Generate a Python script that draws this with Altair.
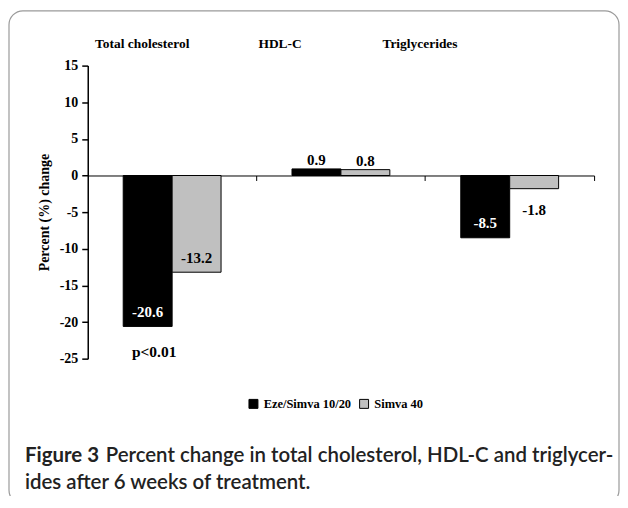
import altair as alt
import pandas as pd

categories = ["Total cholesterol", "HDL-C", "Triglycerides"]
groups = ["Eze/Simva 10/20", "Simva 40"]
eze_values = [-20.6, 0.9, -8.5]
simva_values = [-13.2, 0.8, -1.8]
y_ticks = [15, 10, 5, 0, -5, -10, -15, -20, -25]
p_note = "p<0.01"
p_note_y = -24.1
caption_bold = "Figure 3"
caption_line1 = "Percent change in total cholesterol, HDL-C and triglycer-"
caption_line2 = "ides after 6 weeks of treatment."

rows = []
for c, a, b in zip(categories, eze_values, simva_values):
    rows.append({"category": c, "group": groups[0], "value": a})
    rows.append({"category": c, "group": groups[1], "value": b})
df = pd.DataFrame(rows)

SERIF = "Liberation Serif"
W, H = 508, 294

xscale = alt.Scale(domain=categories, paddingInner=0, paddingOuter=0)
xoff_scale = alt.Scale(domain=groups, paddingInner=0, paddingOuter=0.725)
yscale = alt.Scale(domain=[-25, 15], nice=False, zero=False)

xaxis = alt.Axis(orient="bottom", offset=-H * 25 / 40, labels=False, title=None,
                 domainColor="black", domainWidth=1, tickColor="black",
                 tickSize=5, tickWidth=1, bandPosition=1, grid=False)
yaxis = alt.Axis(values=y_ticks, title="Percent (%) change", grid=False,
                 labelOverlap=False,
                 domainColor="black", domainWidth=1.5, tickColor="black",
                 tickSize=6, tickWidth=1.5, labelPadding=4,
                 labelFont=SERIF, labelFontSize=14, labelFontWeight="bold",
                 labelColor="black", labelExpr="'' + datum.value",
                 titleFont=SERIF, titleFontSize=14, titleFontWeight="bold",
                 titleColor="black", titlePadding=8)

X = alt.X("category:N", sort=categories, scale=xscale, axis=xaxis, title=None)
XO = alt.XOffset("group:N", sort=groups, scale=xoff_scale)

bars = alt.Chart(df).mark_bar(stroke="black", strokeWidth=1).encode(
    x=X,
    xOffset=XO,
    y=alt.Y("value:Q", scale=yscale, axis=yaxis, title="Percent (%) change"),
    color=alt.Color("group:N", sort=groups,
                    scale=alt.Scale(domain=groups, range=["#000000", "#c0c0c0"]),
                    legend=alt.Legend(orient="none", legendX=160, legendY=333,
                                      direction="horizontal", title=None,
                                      symbolType="square", symbolSize=81,
                                      symbolStrokeColor="black", symbolStrokeWidth=1,
                                      labelFont=SERIF, labelFontSize=12.5,
                                      labelFontWeight="bold", labelColor="black",
                                      labelOffset=4, columnPadding=5, padding=0)),
)

labels = alt.Chart(df).transform_calculate(
    ly="datum.value >= 0 ? datum.value + 1.15 : (datum.value > -5 ? datum.value - 2.85 : datum.value + 1.95)",
    txt="'' + datum.value",
    tcolor="(datum.group == '" + groups[0] + "' && datum.value < -5) ? 'white' : 'black'",
).mark_text(font=SERIF, fontSize=15, fontWeight="bold", baseline="middle").encode(
    x=X,
    xOffset=XO,
    y=alt.Y("ly:Q", scale=yscale, axis=yaxis, title="Percent (%) change"),
    text="txt:N",
    color=alt.Color("tcolor:N", scale=None),
)

top_dx = [-30, -61, -90]
top_layers = []
for cat, dx in zip(categories, top_dx):
    top_layers.append(
        alt.Chart(pd.DataFrame({"category": [cat]})).mark_text(
            font=SERIF, fontSize=13.5, fontWeight="bold", color="black", dx=dx,
            baseline="middle").encode(
            x=X,
            y=alt.value(-22),
            text="category:N",
        )
    )

pnote = alt.Chart(pd.DataFrame({"category": [categories[0]], "y": [p_note_y], "t": [p_note]})).mark_text(
    font=SERIF, fontSize=15.5, fontWeight="bold", color="black", dx=-18, baseline="middle"
).encode(
    x=X,
    y=alt.Y("y:Q", scale=yscale, axis=yaxis, title="Percent (%) change"),
    text="t:N",
)

one = pd.DataFrame({"a": [caption_bold], "b": [caption_line1], "c": [caption_line2]})
CAP = "Lato"
CAP_SEMI = "Lato Semibold"
cap1 = alt.Chart(one).mark_text(font=CAP, fontSize=20.5, fontWeight="bold", color="#222",
                                align="left", baseline="alphabetic").encode(
    x=alt.value(-63), y=alt.value(398), text="a:N")
cap2 = alt.Chart(one).mark_text(font=CAP_SEMI, fontSize=20.5, color="#222",
                                align="left", baseline="alphabetic").encode(
    x=alt.value(18), y=alt.value(398), text="b:N")
cap3 = alt.Chart(one).mark_text(font=CAP_SEMI, fontSize=20.5, color="#222",
                                align="left", baseline="alphabetic").encode(
    x=alt.value(-63), y=alt.value(425), text="c:N")

frame = alt.Chart(one).mark_rect(fillOpacity=0, stroke="#9a9a9a", strokeWidth=1.2,
                                 cornerRadius=14).encode(
    x=alt.value(-79), x2=alt.value(533), y=alt.value(-55), y2=alt.value(440))

chart = alt.layer(frame, bars, labels, pnote, *top_layers, cap1, cap2, cap3).properties(
    width=W, height=H,
    autosize=alt.AutoSizeParams(type="none"),
    padding={"left": 80, "top": 57, "right": 26, "bottom": 137},
).configure(background="white", view=alt.ViewConfig(stroke=None))

chart.save("out.html", embed_options={"renderer": "svg", "actions": False})
